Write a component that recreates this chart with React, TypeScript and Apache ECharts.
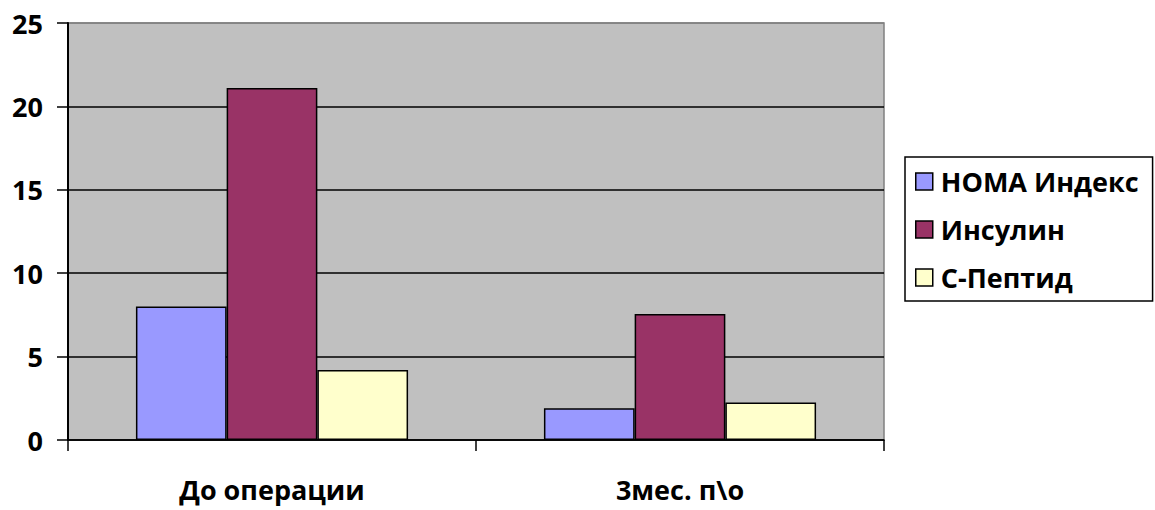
import React, { useEffect, useRef } from "react";
import * as echarts from "echarts";

// Categories and series values
const categories = ["До операции", "3мес. п\\о"];
const seriesNames = ["HOMA Индекс", "Инсулин", "С-Пептид"];
const homaValues = [8.0, 1.9];
const insulinValues = [21.1, 7.55];
const cPeptideValues = [4.2, 2.25];
const seriesColors = ["#9999FF", "#993366", "#FFFFCC"];

const FONT = "'Open Sans', 'Noto Sans', sans-serif";
const FONT_SIZE = 27;

export default function App() {
  const ref = useRef<HTMLDivElement>(null);

  useEffect(() => {
    if (!ref.current) return;
    const chart = echarts.init(ref.current, undefined, { renderer: "svg" });
    const data = [homaValues, insulinValues, cPeptideValues];

    chart.setOption({
      animation: false,
      backgroundColor: "#FFFFFF",
      textStyle: { fontFamily: FONT },
      grid: {
        left: 68,
        right: 271,
        top: 23,
        bottom: 70,
        show: true,
        backgroundColor: "#C0C0C0",
        borderColor: "#808080",
        borderWidth: 1.5,
      },
      legend: {
        orient: "vertical",
        left: 905,
        top: 157,
        padding: [11, 14, 10, 10],
        itemGap: 21,
        itemWidth: 17,
        itemHeight: 17,
        borderColor: "#000",
        borderWidth: 1.5,
        icon: "rect",
        data: seriesNames,
        itemStyle: { borderColor: "#000", borderWidth: 1.5 },
        textStyle: {
          fontFamily: FONT,
          fontWeight: "bold",
          fontSize: FONT_SIZE,
          color: "#000",
          padding: [0, 0, 0, 3],
        },
      },
      xAxis: {
        type: "category",
        data: categories,
        axisLine: { show: true, lineStyle: { color: "#000", width: 1.5 } },
        axisTick: { show: true, length: 11, lineStyle: { color: "#000", width: 1.5 } },
        axisLabel: {
          margin: 36,
          fontFamily: FONT,
          fontWeight: "bold",
          fontSize: FONT_SIZE,
          color: "#000",
        },
        splitLine: { show: false },
      },
      yAxis: {
        type: "value",
        min: 0,
        max: 25,
        interval: 5,
        axisLine: { show: true, lineStyle: { color: "#000", width: 2 } },
        axisTick: { show: true, length: 11, lineStyle: { color: "#000", width: 1.5 } },
        axisLabel: {
          margin: 25,
          fontFamily: FONT,
          fontWeight: "bold",
          fontSize: FONT_SIZE,
          color: "#000",
        },
        splitLine: {
          show: true,
          lineStyle: {
            color: ["#000", "#000", "#000", "#000", "#000", "#808080"],
            width: 1.5,
          },
        },
      },
      series: seriesNames.map((name, i) => ({
        name,
        type: "bar",
        data: data[i],
        barGap: "0%",
        barCategoryGap: "33.3%",
        itemStyle: {
          color: seriesColors[i],
          borderColor: "#000",
          borderWidth: 1.5,
        },
      })),
    });

    return () => chart.dispose();
  }, []);

  return (
    <div
      ref={ref}
      style={{ position: "fixed", left: 0, top: 0, width: 1155, height: 510 }}
    />
  );
}
